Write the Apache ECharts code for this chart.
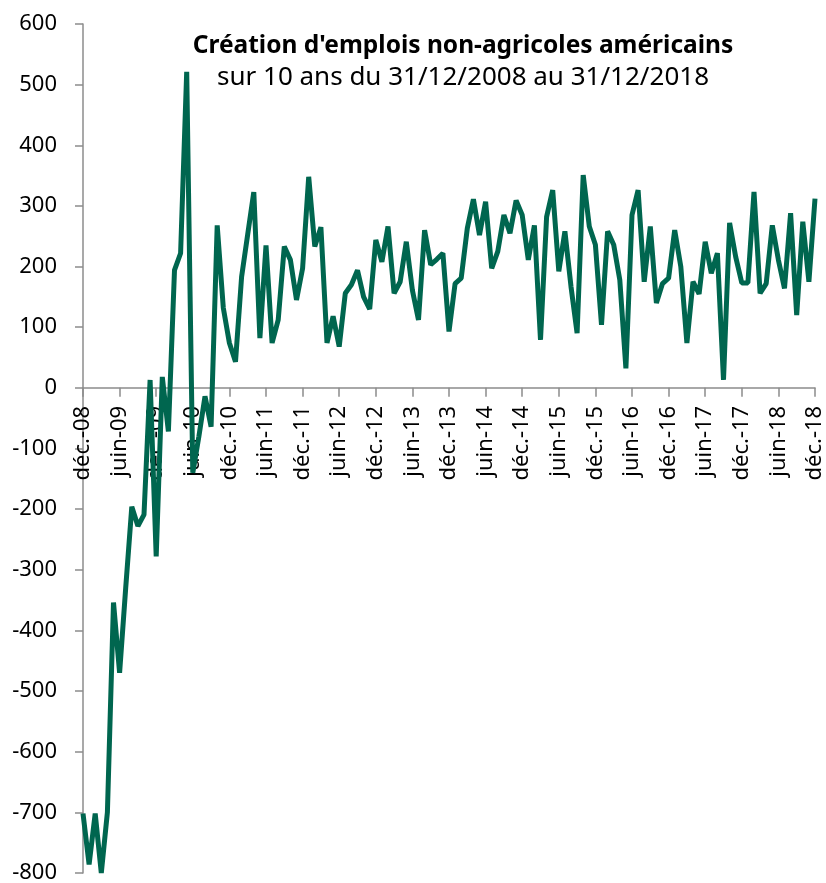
<!DOCTYPE html>
<html lang="fr">
<head>
    <meta charset="UTF-8">
    <title>Création d'emplois non-agricoles américains</title>
    <script src="https://cdn.jsdelivr.net/npm/echarts@6/dist/echarts.min.js"></script>
    <style>
        html, body { margin: 0; padding: 0; background: #fff; }
        #myCharts { width: 826px; height: 883px; }
    </style>
</head>
<body>
<div id="myCharts"></div>

<script>
    // mois français (abréviations), années de 08 à 18
    const moisLabels = ['janv.', 'févr.', 'mars', 'avr.', 'mai', 'juin', 'juil.', 'août', 'sept.', 'oct.', 'nov.', 'déc.'];
    const annees = ['08', '09', '10', '11', '12', '13', '14', '15', '16', '17', '18'];

    // créations d'emplois mensuelles (milliers), déc.-08 -> déc.-18
    const creations = [
        -702, -786, -702, -800, -700, -354, -470, -330, -196, -228,
        -209, 13, -278, 18, -72, 194, 222, 521, -140, -80,
        -14, -64, 268, 132, 74, 43, 183, 253, 323, 82,
        235, 74, 112, 233, 211, 145, 197, 348, 233, 265,
        74, 118, 68, 156, 170, 194, 150, 130, 244, 208,
        266, 156, 175, 241, 161, 112, 260, 203, 212, 222,
        93, 172, 181, 263, 311, 252, 307, 197, 225, 285,
        255, 309, 285, 211, 268, 79, 282, 326, 192, 258,
        167, 90, 351, 266, 236, 104, 258, 236, 178, 32,
        285, 326, 175, 266, 140, 172, 181, 260, 200, 74,
        175, 155, 241, 189, 222, 13, 272, 216, 173, 173,
        323, 156, 172, 268, 211, 164, 288, 120, 274, 175,
        312
    ];

    // déc.-08 puis chaque mois jusqu'à déc.-18
    let categories = ['déc.-' + annees[0]];
    for (let a = 1; a < annees.length; a++) {
        for (let m = 0; m < 12; m++) {
            categories.push(moisLabels[m] + '-' + annees[a]);
        }
    }

    const yMin = -800, yMax = 600;
    const gridTop = 24, gridBottom = 10, chartH = 883;
    // l'axe des x croise à 0 : décalage depuis le bas de la grille
    const plotH = chartH - gridTop - gridBottom;
    const zeroOffset = plotH * (0 - yMin) / (yMax - yMin);

    const axisColor = '#8c8c8c';
    const police = 'Noto Sans';

    let myChart = echarts.init(document.getElementById('myCharts'));
    myChart.setOption({
        animation: false,
        backgroundColor: '#fff',
        textStyle: {fontFamily: police},
        title: [
            {
                text: "Création d'emplois non-agricoles américains",
                left: 458,
                top: 29,
                textAlign: 'center',
                textStyle: {fontFamily: police, fontSize: 24.5, fontWeight: 'bold', color: '#000'}
            },
            {
                text: 'sur 10 ans du 31/12/2008 au 31/12/2018',
                left: 458,
                top: 60,
                textAlign: 'center',
                textStyle: {fontFamily: police, fontSize: 26, fontWeight: 'normal', color: '#000'}
            }
        ],
        grid: {
            left: 83,
            right: 11,
            top: gridTop,
            bottom: gridBottom,
            containLabel: false,
            outerBoundsMode: 'none'
        },
        xAxis: {
            type: 'category',
            data: categories,
            boundaryGap: false,
            position: 'bottom',
            offset: -zeroOffset,
            axisLine: {onZero: false, lineStyle: {color: axisColor, width: 1.5}},
            axisTick: {interval: 5, length: 9, lineStyle: {color: axisColor, width: 1.5}},
            axisLabel: {
                interval: 5,
                rotate: 90,
                margin: 18,
                fontFamily: police,
                fontSize: 22,
                color: '#000'
            },
            splitLine: {show: false}
        },
        yAxis: {
            type: 'value',
            min: yMin,
            max: yMax,
            interval: 100,
            axisLine: {show: true, lineStyle: {color: axisColor, width: 1.5}},
            axisTick: {show: true, length: 8, lineStyle: {color: axisColor, width: 1.5}},
            axisLabel: {margin: 26, fontFamily: police, fontSize: 22, color: '#000'},
            splitLine: {show: false}
        },
        series: [
            {
                type: 'line',
                data: creations,
                symbol: 'none',
                zlevel: 1,
                lineStyle: {color: '#00664f', width: 5},
                clip: false
            }
        ]
    });
</script>

</body>
</html>
